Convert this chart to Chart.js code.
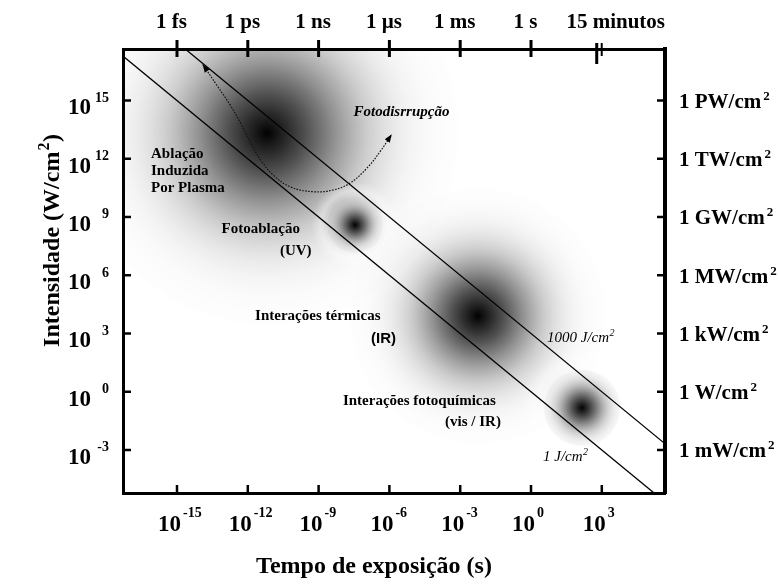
<!DOCTYPE html>
<html><head><meta charset="utf-8">
<script src="https://cdn.jsdelivr.net/npm/chart.js@4.4.1/dist/chart.umd.min.js"></script>
<style>html,body{margin:0;padding:0;background:#fff}canvas{display:block}</style>
</head><body>
<canvas id="c" width="779" height="584"></canvas>
<script>
// ---------------- data ----------------
const timeTicks = [1e-15, 1e-12, 1e-9, 1e-6, 1e-3, 1e0, 1e3];
const timeTickExp = ['-15', '-12', '-9', '-6', '-3', '0', '3'];
const intensityTicks = [1e15, 1e12, 1e9, 1e6, 1e3, 1e0, 1e-3];
const intensityTickExp = ['15', '12', '9', '6', '3', '0', '-3'];
const topTickValues = [1e-15, 1e-12, 1e-9, 1e-6, 1e-3, 1];
const topTickLabels = ['1 fs', '1 ps', '1 ns', '1 µs', '1 ms', '1 s'];
const breakValue = 900;
const breakLabel = '15 minutos';
const rightLabels = ['1 PW/cm', '1 TW/cm', '1 GW/cm', '1 MW/cm', '1 kW/cm', '1 W/cm', '1 mW/cm'];

const regionNames = ['Ablação induzida por plasma', 'Fotoablação', 'Interações térmicas', 'Interações fotoquímicas'];
const regionTime = [6.5e-12, 3.5e-8, 5.6e-3, 1.45e2];
const regionIntensity = [2.1e13, 3.9e8, 8.0e3, 0.148];

const fluence1Time = [1e-18, 1e6];
const fluence1Intensity = [1e18, 1e-6];
const fluence1000Time = [1e-18, 1e6];
const fluence1000Intensity = [1e21, 1e-3];

const pathTime = [1.23e-14, 4.8e-14, 1.78e-13, 5.5e-13, 1.48e-12, 3.9e-12, 1.2e-11, 6.2e-11, 6.0e-10, 4.3e-9, 2.1e-8, 1.1e-7, 4.0e-7, 1.26e-6];
const pathIntensity = [7.2e16, 6.3e15, 5.9e14, 5.5e13, 5.1e12, 7.1e11, 1.45e11, 3.6e10, 2.0e10, 2.5e10, 5.5e10, 3.2e11, 2.3e12, 1.8e13];

// ---------------- styles ----------------
const SERIF = '"Liberation Serif", "Times New Roman", serif';
const SANS = '"Liberation Sans", Arial, sans-serif';
const blobSigma = [60, 11, 40, 15];
const blobHalo = [false, true, false, true];

// annotation anchors in data units (log10 seconds, log10 W/cm2), left/baseline
const annotations = [
  {text: 'Ablação', lt: -16.10, li: 12.04, font: 'bold 15px ' + SERIF},
  {text: 'Induzida', lt: -16.10, li: 11.16, font: 'bold 15px ' + SERIF},
  {text: 'Por Plasma', lt: -16.10, li: 10.29, font: 'bold 15px ' + SERIF},
  {text: 'Fotoablação', lt: -13.11, li: 8.18, font: 'bold 15px ' + SERIF},
  {text: '(UV)', lt: -10.64, li: 7.04, font: 'bold 15px ' + SERIF},
  {text: 'Interações térmicas', lt: -11.69, li: 3.67, font: 'bold 15px ' + SERIF},
  {text: '(IR)', lt: -6.78, li: 2.51, font: 'bold 15px ' + SANS},
  {text: 'Interações fotoquímicas', lt: -7.97, li: -0.68, font: 'bold 15px ' + SERIF},
  {text: '(vis / IR)', lt: -3.64, li: -1.79, font: 'bold 15px ' + SERIF},
  {text: 'Fotodisrrupção', lt: -7.52, li: 14.18, font: 'italic bold 15px ' + SERIF}
];
const fluenceLabels = [
  {text: '1000 J/cm', sup: '2', lt: 0.68, li: 2.56},
  {text: '1 J/cm', sup: '2', lt: 0.51, li: -3.59}
];

function toPts(xs, ys) { return xs.map((x, i) => ({x: x, y: ys[i]})); }

function blobGradient(c, px, py, i) {
  const s = blobSigma[i];
  const halo = blobHalo[i];
  const R = halo ? s * 4 : s * 3.2;
  const g = c.createRadialGradient(px, py, 0, px, py, R);
  const n = 32;
  const cut = halo ? 2.6 * s : R;
  for (let k = 0; k <= n; k++) {
    const d = k / n * R;
    if (d > cut) break;
    const a = 0.8 * Math.exp(-d * d / (2 * s * s)) + 0.2 * Math.exp(-d / (s * 0.35));
    g.addColorStop(d / R, 'rgba(0,0,0,' + Math.min(1, a).toFixed(3) + ')');
  }
  if (halo) {
    g.addColorStop(cut / R + 0.001, 'rgba(255,255,255,0)');
    g.addColorStop(3.1 * s / R, 'rgba(255,255,255,0.35)');
    g.addColorStop(1, 'rgba(255,255,255,0)');
  } else {
    g.addColorStop(1, 'rgba(0,0,0,0)');
  }
  return g;
}

function drawSegments(c, segs, x, y, align) {
  let total = 0;
  segs.forEach(s => { c.font = s.font; s.w = c.measureText(s.text).width; total += s.w + (s.gap || 0); });
  let cx = align === 'center' ? x - total / 2 : align === 'right' ? x - total : x;
  c.textAlign = 'left';
  c.textBaseline = 'alphabetic';
  segs.forEach(s => { cx += (s.gap || 0); c.font = s.font; c.fillText(s.text, cx, y - (s.raise || 0)); cx += s.w; });
}

const decorPlugin = {
  id: 'decor',
  afterDatasetsDraw(chart) {
    const c = chart.ctx;
    const xs = chart.scales.x, ys = chart.scales.y;
    const area = chart.chartArea;
    if (!xs || !ys || !area) return;
    c.save();
    c.fillStyle = '#000';
    c.strokeStyle = '#000';

    // arrowheads on the dotted path
    const meta = chart.getDatasetMeta(2);
    const pts = (meta && meta.data) || [];
    function arrow(p, q) {
      if (!p || !q) return;
      const ang = Math.atan2(p.y - q.y, p.x - q.x);
      const L = 8, W = 3;
      c.beginPath();
      c.moveTo(p.x, p.y);
      c.lineTo(p.x - L * Math.cos(ang) + W * Math.sin(ang), p.y - L * Math.sin(ang) - W * Math.cos(ang));
      c.lineTo(p.x - L * Math.cos(ang) - W * Math.sin(ang), p.y - L * Math.sin(ang) + W * Math.cos(ang));
      c.closePath();
      c.fill();
    }
    if (pts.length > 1) {
      arrow(pts[0], pts[1]);
      arrow(pts[pts.length - 1], pts[pts.length - 2]);
    }

    // tick marks
    c.lineWidth = 2.5;
    timeTicks.forEach(v => {
      const px = xs.getPixelForValue(v);
      c.beginPath(); c.moveTo(px, area.bottom); c.lineTo(px, area.bottom - 8); c.stroke();
    });
    intensityTicks.forEach(v => {
      const py = ys.getPixelForValue(v);
      c.beginPath(); c.moveTo(area.left, py); c.lineTo(area.left + 8, py); c.stroke();
      c.beginPath(); c.moveTo(area.right, py); c.lineTo(area.right - 8, py); c.stroke();
    });
    c.lineWidth = 3;
    topTickValues.forEach(v => {
      const px = xs.getPixelForValue(v);
      c.beginPath(); c.moveTo(px, area.top - 9); c.lineTo(px, area.top + 8); c.stroke();
    });
    const bx = xs.getPixelForValue(breakValue);
    c.beginPath(); c.moveTo(bx - 4, area.top - 6); c.lineTo(bx - 4, area.top + 15); c.stroke();
    c.lineWidth = 2;
    c.beginPath(); c.moveTo(bx + 1, area.top - 6); c.lineTo(bx + 1, area.top + 7); c.stroke();

    // bottom tick labels
    timeTicks.forEach((v, i) => {
      const px = xs.getPixelForValue(v);
      c.font = 'bold 23px ' + SERIF;
      c.textAlign = 'right'; c.textBaseline = 'alphabetic';
      c.fillText('10', px + 4, area.bottom + 38);
      c.font = 'bold 14px ' + SERIF;
      c.textAlign = 'left';
      c.fillText(timeTickExp[i], px + 6, area.bottom + 24);
    });
    // left tick labels
    intensityTicks.forEach((v, i) => {
      const py = ys.getPixelForValue(v);
      c.font = 'bold 23px ' + SERIF;
      c.textAlign = 'right'; c.textBaseline = 'alphabetic';
      c.fillText('10', area.left - 32, py + 14);
      c.font = 'bold 14px ' + SERIF;
      c.fillText(intensityTickExp[i], area.left - 14, py + 1.5);
    });
    // right tick labels
    intensityTicks.forEach((v, i) => {
      const py = ys.getPixelForValue(v);
      drawSegments(c, [
        {text: rightLabels[i], font: 'bold 21px ' + SERIF},
        {text: '2', font: 'bold 13px ' + SERIF, raise: 8, gap: 2}
      ], area.right + 14, py + 7.5, 'left');
    });
    // top labels
    c.font = 'bold 21px ' + SERIF;
    c.textAlign = 'center'; c.textBaseline = 'alphabetic';
    topTickValues.forEach((v, i) => {
      const px = xs.getPixelForValue(v);
      c.fillText(topTickLabels[i], px - 5.5, 28);
    });
    c.fillText(breakLabel, bx + 15, 28);

    // annotations
    c.textAlign = 'left';
    annotations.forEach(a => {
      c.font = a.font;
      c.fillText(a.text, xs.getPixelForValue(Math.pow(10, a.lt)), ys.getPixelForValue(Math.pow(10, a.li)));
    });
    fluenceLabels.forEach(a => {
      drawSegments(c, [
        {text: a.text, font: 'italic 15px ' + SERIF},
        {text: a.sup, font: 'italic 10px ' + SERIF, raise: 6, gap: 0.5}
      ], xs.getPixelForValue(Math.pow(10, a.lt)), ys.getPixelForValue(Math.pow(10, a.li)), 'left');
    });

    // axis titles
    drawSegments(c, [{text: 'Tempo de exposição (s)', font: 'bold 24px ' + SERIF}], 374, 573, 'center');
    c.save();
    c.translate(59, 240.5);
    c.rotate(-Math.PI / 2);
    drawSegments(c, [
      {text: 'Intensidade (W/cm', font: 'bold 24px ' + SERIF},
      {text: '2', font: 'bold 16px ' + SERIF, raise: 10, gap: 1},
      {text: ')', font: 'bold 24px ' + SERIF, gap: 0.5}
    ], 0, 0, 'center');
    c.restore();
    c.restore();
  }
};

const logAxis = (pos, min, max, bw, axis) => ({
  type: 'logarithmic', position: pos, axis: axis, min: min, max: max,
  grid: {display: false, drawTicks: false},
  border: {display: true, width: bw, color: '#000'},
  ticks: {display: false},
  title: {display: false}
});
const xMin = Math.pow(10, -17.288), xMax = Math.pow(10, 5.678);
const yMin = Math.pow(10, -5.215), yMax = Math.pow(10, 17.652);

function blobRadius(ctx) {
  const i = (ctx && typeof ctx.dataIndex === 'number') ? ctx.dataIndex : 0;
  return blobHalo[i] ? blobSigma[i] * 4 : blobSigma[i] * 3.2;
}
function blobFill(ctx) {
  if (!ctx || ctx.type !== 'data' || !ctx.parsed || !ctx.chart || !ctx.chart.scales.x) return 'rgba(0,0,0,0)';
  const ch = ctx.chart;
  const px = ch.scales.x.getPixelForValue(ctx.parsed.x);
  const py = ch.scales.y.getPixelForValue(ctx.parsed.y);
  if (!isFinite(px) || !isFinite(py)) return 'rgba(0,0,0,0)';
  return blobGradient(ch.ctx, px, py, ctx.dataIndex);
}

new Chart(document.getElementById('c'), {
  type: 'scatter',
  data: {
    datasets: [
      {type: 'line', label: '1 J/cm²', data: toPts(fluence1Time, fluence1Intensity), borderColor: '#000', borderWidth: 1.3, pointRadius: 0, fill: false, showLine: true, clip: 0, order: 1},
      {type: 'line', label: '1000 J/cm²', data: toPts(fluence1000Time, fluence1000Intensity), borderColor: '#000', borderWidth: 1.3, pointRadius: 0, fill: false, showLine: true, clip: 0, order: 1},
      {type: 'line', label: 'Fotodisrrupção', data: toPts(pathTime, pathIntensity), borderColor: '#111', borderWidth: 1.2, borderDash: [1.6, 1.4], tension: 0.4, pointRadius: 0, fill: false, showLine: true, clip: 0, order: 0},
      {type: 'bubble', label: 'regiões', data: toPts(regionTime, regionIntensity), borderWidth: 0, clip: 0, order: 5,
        radius: blobRadius, hoverRadius: 0, backgroundColor: blobFill, hoverBackgroundColor: blobFill}
    ]
  },
  options: {
    responsive: false,
    animation: false,
    events: [],
    layout: {autoPadding: false, padding: {left: 123, right: 114, top: 49, bottom: 91}},
    plugins: {legend: {display: false}, tooltip: {enabled: false}},
    scales: {
      x: logAxis('bottom', xMin, xMax, 3, 'x'),
      x2: logAxis('top', xMin, xMax, 3, 'x'),
      y: logAxis('left', yMin, yMax, 3, 'y'),
      y2: logAxis('right', yMin, yMax, 4, 'y')
    }
  },
  plugins: [decorPlugin]
});
</script>
</body></html>
